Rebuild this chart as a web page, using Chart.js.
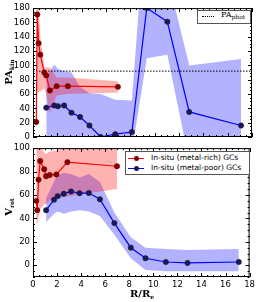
<!DOCTYPE html>
<html>
<head>
<meta charset="utf-8">
<script src="https://cdn.jsdelivr.net/npm/chart.js@4.4.0/dist/chart.umd.min.js"></script>
<style>
  body { margin: 0; background: #fff; }
  #wrap { position: relative; width: 258px; height: 302px; overflow: hidden; }
  canvas { position: absolute; left: 0; }
  .ytitle, .xtitle { position: absolute; font-family: 'DejaVu Serif', serif; font-weight: bold; font-size: 10px; color: #000; white-space: nowrap; }
  .ytitle { transform: translate(-50%, -50%) rotate(-90deg); }
  .xtitle { transform: translate(-50%, -50%); }
  sub { font-size: 6px; vertical-align: -2px; color: #000; }
  .legend { position: absolute; background: #fff; border: 1px solid #555; }
  .row { position: absolute; left: 0; height: 9px; }
  .row .ln { position: absolute; top: 4px; height: 0; }
  .row .dot { position: absolute; width: 5px; height: 5px; border-radius: 50%; top: 2px; }
  .row .lbl { position: absolute; top: -1px; font-family: 'DejaVu Sans', sans-serif; font-size: 7.5px; color: #000; white-space: nowrap; }
</style>
</head>
<body>
<div id="wrap">
  <canvas id="topChart" width="258" height="146" style="top:0"></canvas>
  <canvas id="bottomChart" width="258" height="162" style="top:140px"></canvas>

  <div class="ytitle" style="left:9px; top:72px">PA<sub>kin</sub></div>
  <div class="ytitle" style="left:9px; top:207px">V<sub>rot</sub></div>
  <div class="xtitle" style="left:142px; top:294px">R/R<sub>e</sub></div>

  <div class="legend" style="left:197px; top:10px; width:52px; height:12px">
    <div class="row" style="top:1px">
      <div class="ln" style="left:4px; width:12px; border-top:1px dotted #000"></div>
      <div class="lbl" style="left:23px; top:-2px; font-family:'DejaVu Serif',serif; font-size:8px">PA<sub>phot</sub></div>
    </div>
  </div>

  <div class="legend" style="left:125px; top:151px; width:123px; height:22px">
    <div class="row" style="top:2px">
      <div class="ln" style="left:2px; width:16px; border-top:1.2px solid #f00"></div>
      <div class="dot" style="left:7.5px; background:#800000"></div>
      <div class="lbl" style="left:25px">In-situ (metal-rich) GCs</div>
    </div>
    <div class="row" style="top:11.5px">
      <div class="ln" style="left:2px; width:16px; border-top:1.2px solid #00f"></div>
      <div class="dot" style="left:7.5px; background:#1a1a50"></div>
      <div class="lbl" style="left:25px">In-situ (metal-poor) GCs</div>
    </div>
  </div>
</div>

<script>
// metal-rich in-situ GCs
const rRich = [0.27, 0.35, 0.46, 0.60, 0.93, 1.09, 1.39, 1.94, 2.86, 6.98];
const paRich = [21, 171, 131, 115, 90, 86, 65, 71, 71, 70];
const paRichHi = [200, 200, 185, 140, 98, 97, 97, 83, 83, 78];
const paRichLo = [60, 62, 63, 64, 68, 58, 33, 58, 60, 62];
const vRich = [55, 47, 73, 89, 82, 76, 77, 77.5, 88, 84.5];
const vRichHi = [110, 108, 105, 102, 96, 95, 97, 98, 102, 106];
const vRichLo = [35, 36, 40, 48, 52, 52, 55, 57, 59, 65];

// metal-poor in-situ GCs
const rPoor = [1.09, 1.75, 2.05, 2.56, 3.16, 3.87, 4.64, 5.56, 6.76, 8.13, 9.35, 11.04, 12.84, 17.1];
const paPoor = [41, 44, 43, 44, 34, 28, 16, 0, 4, 7, 180, 161, 35, 16];
const paPoorHi = [85, 101, 95, 92, 90, 70, 61, 60, 52, 51, 330, 225, 100, 109];
const paPoorLo = [-5, -5, -5, -5, -5, -5, -5, -5, -5, -20, 110, 115, -34, -20];
const vPoor = [47, 56, 59, 61, 63, 61.5, 61.7, 56.3, 36, 15, 6, 2.8, 2, 2.8];
const vPoorHi = [57, 72, 77, 79, 78, 75, 78, 71, 45, 24, 15, 14, 13, 14];
const vPoorLo = [37, 44, 46, 44, 46, 47, 46, 42, 26, 6, -4, -5, -5, -5];

// photometric PA
const paPhot = 92;

// ticks
const xTicks = [0, 2, 4, 6, 8, 10, 12, 14, 16, 18];
const paTicks = [0, 20, 40, 60, 80, 100, 120, 140, 160, 180];
const vTicks = [0, 20, 40, 60, 80, 100];

Chart.defaults.font.family = 'DejaVu Sans';
Chart.defaults.font.size = 8.5;
Chart.defaults.color = '#000';

function pts(xs, ys) {
    return xs.map((x, i) => ({ x: x, y: ys[i] }));
}

function band(xs, hi, lo, color) {
    return [
        { data: pts(xs, hi), fill: '+1', backgroundColor: color, borderWidth: 0, pointRadius: 0, order: 3 },
        { data: pts(xs, lo), fill: false, borderWidth: 0, pointRadius: 0, order: 3 }
    ];
}

function series(xs, ys, line, dot) {
    return {
        data: pts(xs, ys), borderColor: line, borderWidth: 1.2, fill: false,
        pointRadius: 2.7, pointBackgroundColor: dot, pointBorderColor: dot, pointBorderWidth: 0.5, order: 1
    };
}

// draws the frame with inward major / minor ticks on all four sides
const frameTicks = {
    id: 'frameTicks',
    afterDatasetsDraw(chart, args, opts) {
        const { ctx, chartArea: a, scales: { x, y } } = chart;
        ctx.save();
        ctx.strokeStyle = '#000';
        ctx.lineWidth = 1;
        ctx.strokeRect(a.left + 0.5, a.top + 0.5, a.right - a.left - 1, a.bottom - a.top - 1);
        ctx.beginPath();
        for (let v = x.min; v <= x.max + 1e-9; v += opts.xMinor) {
            const px = Math.round(x.getPixelForValue(v)) + 0.5;
            const len = Math.abs(v / opts.xMajor - Math.round(v / opts.xMajor)) < 1e-6 ? 4 : 2;
            ctx.moveTo(px, a.bottom); ctx.lineTo(px, a.bottom - len);
            ctx.moveTo(px, a.top); ctx.lineTo(px, a.top + len);
        }
        for (let v = opts.yStart; v <= y.max + 1e-9; v += opts.yMinor) {
            const py = Math.round(y.getPixelForValue(v)) + 0.5;
            const len = Math.abs(v / opts.yMajor - Math.round(v / opts.yMajor)) < 1e-6 ? 4 : 2;
            ctx.moveTo(a.left, py); ctx.lineTo(a.left + len, py);
            ctx.moveTo(a.right, py); ctx.lineTo(a.right - len, py);
        }
        ctx.stroke();
        ctx.restore();
    }
};

function yScale(min, max, ticks) {
    return {
        type: 'linear', min: min, max: max,
        grid: { display: false, drawTicks: false }, border: { display: false },
        ticks: { padding: 3 },
        afterBuildTicks: s => { s.ticks = ticks.map(v => ({ value: v })); },
        afterFit: s => { s.width = 33; }
    };
}

// top panel: kinematic position angle
new Chart(document.getElementById('topChart'), {
    type: 'line',
    data: {
        datasets: [
            ...band(rRich, paRichHi, paRichLo, 'rgba(255,0,0,0.3)'),
            ...band(rPoor, paPoorHi, paPoorLo, 'rgba(0,0,255,0.3)'),
            { data: [{ x: 0, y: paPhot }, { x: 18, y: paPhot }], borderColor: '#000', borderWidth: 1,
              borderDash: [1.5, 1.5], pointRadius: 0, fill: false, order: 2 },
            series(rRich, paRich, '#ff0000', '#800000'),
            series(rPoor, paPoor, '#0000ff', '#1a1a50')
        ]
    },
    options: {
        responsive: false, animation: false, devicePixelRatio: 1,
        layout: { padding: { top: 7, bottom: 9, right: 6, left: 0 } },
        plugins: { legend: { display: false }, tooltip: { enabled: false },
                   frameTicks: { xMajor: 2, xMinor: 0.5, yMajor: 20, yMinor: 5, yStart: 0 } },
        scales: {
            x: { type: 'linear', min: 0, max: 18, display: false },
            y: yScale(0, 180, paTicks)
        }
    },
    plugins: [frameTicks]
});

// bottom panel: rotation velocity
new Chart(document.getElementById('bottomChart'), {
    type: 'line',
    data: {
        datasets: [
            ...band(rRich, vRichHi, vRichLo, 'rgba(255,0,0,0.3)'),
            ...band(rPoor, vPoorHi, vPoorLo, 'rgba(0,0,255,0.3)'),
            series(rRich, vRich, '#ff0000', '#800000'),
            series(rPoor, vPoor, '#0000ff', '#1a1a50')
        ]
    },
    options: {
        responsive: false, animation: false, devicePixelRatio: 1,
        layout: { padding: { top: 7, bottom: 0, right: 6, left: 0 } },
        plugins: { legend: { display: false }, tooltip: { enabled: false },
                   frameTicks: { xMajor: 2, xMinor: 0.5, yMajor: 20, yMinor: 5, yStart: -10 } },
        scales: {
            x: {
                type: 'linear', min: 0, max: 18,
                grid: { display: false, drawTicks: false }, border: { display: false },
                ticks: { padding: 3, maxRotation: 0 },
                afterBuildTicks: s => { s.ticks = xTicks.map(v => ({ value: v })); },
                afterFit: s => { s.height = 25; }
            },
            y: yScale(-10, 100, vTicks)
        }
    },
    plugins: [frameTicks]
});
</script>
</body>
</html>
